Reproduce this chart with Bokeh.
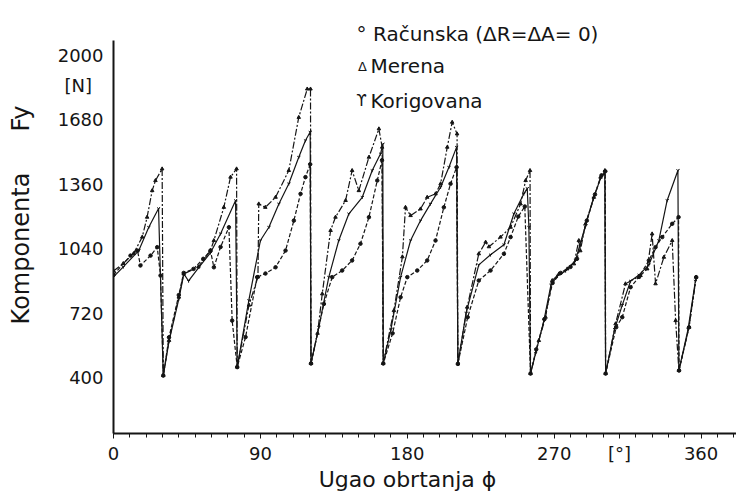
from bokeh.plotting import figure
from bokeh.models import Range1d, FixedTicker, Label, ColumnDataSource, LinearAxis
from bokeh.embed import file_html
from bokeh.resources import INLINE

# ---------------- data ----------------
# Racunska (dR = dA = 0)
racunska_phi = [0, 10.4, 14.7, 16.5, 22.7, 26.8, 28.8, 30.5,
                34, 40, 43, 49, 55, 59.4, 61.5, 65.6, 70.7, 72.7, 75.8,
                80.9, 88, 93.1, 99.3, 105.4, 110.5, 114.6, 117.6, 120.5, 121,
                128.9, 134, 140.1, 146.2, 151.3, 156.5, 161.6, 164.5, 165.3,
                171, 175.9, 180, 186.1, 192.2, 197.3, 202.4, 206.5, 210.2, 211,
                217, 223.8, 231, 239.2, 243.3, 248, 252, 255.5,
                259, 264, 269, 274, 280, 284, 290, 295, 299, 301.3, 301.5,
                308, 311.7, 316.8, 322, 328, 332.1, 336.2, 342.3, 346.2, 346.5, 352.6, 357]
racunska_f = [910, 1006, 1031, 957, 1006, 1048, 907, 410,
              600, 810, 920, 940, 990, 1031, 948, 1049, 1147, 683, 452,
              601, 899, 917, 948, 1031, 1180, 1313, 1396, 1460, 470,
              766, 899, 932, 982, 1065, 1197, 1379, 1480, 470,
              620, 799, 899, 932, 982, 1081, 1246, 1363, 1445, 468,
              700, 882, 932, 1015, 1098, 1200, 1250, 420,
              540, 690, 870, 920, 950, 990, 1180, 1310, 1405, 1425, 420,
              650, 700, 849, 900, 982, 1048, 1098, 1164, 1197, 435, 650, 899]

# Merena
merena_phi = [0, 6, 12.3, 17.6, 20.6, 23.7, 25.7, 29.8, 30.5,
              34, 40, 43, 52, 59.4, 61.5, 67.6, 71.7, 75.4, 75.8,
              83, 88.5, 89, 93, 99.3, 107.4, 113.5, 118.7, 120.7, 121,
              125, 127.9, 133, 136, 142.2, 146.2, 150.3, 156.5, 162.6, 164.6, 165.2,
              171.8, 177, 178.9, 182, 188.1, 192.2, 197.3, 200.4, 204.5, 207.5, 210.5, 211,
              216.7, 223.8, 228, 230, 237.1, 243.3, 249.4, 252.5, 255.2, 255.5,
              260.6, 264.7, 268.8, 272.9, 278, 282.1, 285.1, 286, 289.2, 294.3, 298.4, 301.1, 301.5,
              307.6, 313.7, 322.9, 327, 330, 332.1, 337.2, 342.3, 344.4, 346.4, 352.6, 357]
merena_f = [930, 967, 1016, 1098, 1197, 1329, 1379, 1437, 410,
            584, 800, 915, 950, 1031, 1081, 1246, 1396, 1437, 452,
            760, 900, 1263, 1246, 1296, 1429, 1693, 1834, 1834, 470,
            620, 816, 1131, 1197, 1280, 1429, 1329, 1495, 1636, 1545, 470,
            733, 1000, 1246, 1205, 1238, 1296, 1313, 1363, 1545, 1669, 1611, 468,
            750, 1015, 1073, 1050, 1098, 1147, 1263, 1379, 1429, 420,
            584, 700, 882, 915, 940, 965, 1081, 1030, 1164, 1296, 1396, 1429, 420,
            667, 866, 907, 940, 1114, 866, 998, 1081, 683, 435, 650, 899]

# Korigovana
korigovana_phi = [0, 6, 15.5, 21.6, 27.6, 30.5,
                  34, 40, 43.1, 46, 52.3, 59.4, 65.6, 74.8, 75.8,
                  82.9, 90, 95.2, 101.3, 107.4, 113.5, 117.6, 120.5, 121,
                  125.8, 131.9, 138, 144.2, 152.4, 158.5, 163.6, 165, 165.3,
                  170, 175.9, 182, 188.1, 194.2, 200.4, 205.5, 210.2, 211,
                  216, 223.8, 231, 239.2, 245.3, 251.4, 253.5, 254.5, 255.5,
                  258.6, 263.7, 268, 272, 277, 283, 289, 294, 298.4, 301, 301.5,
                  307, 311.7, 316.8, 322, 328, 334.1, 339.2, 345.8, 346.4, 352, 356.5]
korigovana_f = [900, 950, 1031, 1147, 1240, 410,
                580, 790, 915, 880, 948, 1020, 1115, 1280, 452,
                783, 1081, 1147, 1263, 1363, 1495, 1578, 1620, 470,
                650, 899, 1081, 1214, 1296, 1429, 1512, 1560, 470,
                640, 899, 1081, 1180, 1263, 1346, 1445, 1545, 468,
                720, 960, 1010, 1060, 1214, 1313, 1340, 1147, 420,
                520, 683, 860, 905, 930, 982, 1150, 1290, 1390, 1420, 420,
                640, 760, 880, 910, 960, 1081, 1280, 1429, 435, 640, 880]

x_ticks = [0, 90, 180, 270, 360]
x_unit_tick = 310            # where "[°]" sits among the x labels
y_ticks = [400, 720, 1040, 1360, 1680, 2000]
y_unit_tick = 1850           # where "[N]" sits among the y labels

# ---------------- layout ----------------
W, H = 736, 497
LEFT, TOP, BOTTOM = 113, 40, 64
X0, X1 = 0, 381.7
Y0, Y1 = 122, 2075
FONT = "DejaVu Sans"
INK = "#151515"

p = figure(width=W, height=H, output_backend="svg", toolbar_location=None,
           x_range=Range1d(X0, X1), y_range=Range1d(Y0, Y1),
           min_border_left=LEFT, min_border_right=0,
           min_border_top=TOP, min_border_bottom=BOTTOM)
p.outline_line_color = None
p.xgrid.visible = False
p.ygrid.visible = False
p.background_fill_color = "white"
p.border_fill_color = "white"

fw = W - LEFT
fh = H - TOP - BOTTOM


def dx(px):
    return X0 + (px - LEFT) * (X1 - X0) / fw


def dy(py):
    return Y0 + (TOP + fh - py) * (Y1 - Y0) / fh


def bare(axis):
    axis.axis_line_color = None
    axis.major_tick_line_color = None
    axis.minor_tick_line_color = None
    axis.major_tick_out = 0
    axis.major_tick_in = 0
    axis.minor_tick_out = 0
    axis.minor_tick_in = 0
    axis.major_label_text_font = FONT
    axis.major_label_text_color = INK


# x axis
minors = [t for t in range(0, 381, 10) if t != x_unit_tick]
p.xaxis.ticker = FixedTicker(ticks=x_ticks + [x_unit_tick], minor_ticks=minors)
p.xaxis.major_label_overrides = {x_unit_tick: "[°]"}
p.xaxis.axis_line_width = 2
p.xaxis.axis_line_color = INK
p.xaxis.major_tick_out = 5
p.xaxis.major_tick_in = 0
p.xaxis.minor_tick_out = 4
p.xaxis.minor_tick_in = 0
p.xaxis.major_tick_line_color = INK
p.xaxis.minor_tick_line_color = INK
p.xaxis.major_label_text_font = FONT
p.xaxis.major_label_text_font_size = "18px"
p.xaxis.major_label_text_color = INK
p.xaxis.major_label_standoff = 4

# x title as a second, bare axis row below
xt = dx(407)
xtitle = LinearAxis(ticker=FixedTicker(ticks=[xt], minor_ticks=[]))
bare(xtitle)
xtitle.major_label_overrides = {xt: "Ugao obrtanja ϕ"}
xtitle.major_label_text_font_size = "22px"
xtitle.major_label_standoff = 0
p.add_layout(xtitle, "below")

# y axis
p.yaxis.ticker = FixedTicker(ticks=y_ticks + [y_unit_tick], minor_ticks=[])
p.yaxis.major_label_overrides = {y_unit_tick: "[N]\u00a0\u00a0"}
p.yaxis.axis_line_width = 2
p.yaxis.axis_line_color = INK
p.yaxis.major_tick_out = 0
p.yaxis.major_tick_in = 0
p.yaxis.major_label_text_font = FONT
p.yaxis.major_label_text_font_size = "18px"
p.yaxis.major_label_text_color = INK
p.yaxis.major_label_standoff = 10

# outer left row: "Komponenta" and "Fy", rotated
yk, yf = dy(248), dy(118)
ytitle = LinearAxis(ticker=FixedTicker(ticks=[yk, yf], minor_ticks=[]))
bare(ytitle)
ytitle.major_label_overrides = {yk: "Komponenta", yf: "Fy"}
ytitle.major_label_orientation = "vertical"
ytitle.major_label_text_font_size = "24px"
ytitle.major_label_standoff = 20
p.add_layout(ytitle, "left")

# legend, first row above the frame
lx = dx(477)
leg = LinearAxis(ticker=FixedTicker(ticks=[lx], minor_ticks=[]))
bare(leg)
leg.major_label_overrides = {lx: "° Računska (ΔR=ΔA= 0)"}
leg.major_label_text_font_size = "20px"
leg.major_label_standoff = -5
p.add_layout(leg, "above")

# series
series = [
    ("Računska", racunska_phi, racunska_f, "4 2", "circle"),
    ("Merena", merena_phi, merena_f, "7 2 2 2", "triangle"),
    ("Korigovana", korigovana_phi, korigovana_f, "solid", "y"),
]
for name, ph, ff, dash, marker in series:
    assert len(ph) == len(ff), name
    src = ColumnDataSource(dict(phi=ph, f=ff))
    p.line("phi", "f", source=src, line_color=INK, line_width=1.2, line_dash=dash)
    p.scatter("phi", "f", source=src, marker=marker, size=3.5,
              line_color=INK, fill_color=INK, line_width=1)


def lab(px, py, text, size="20px", align="center"):
    p.add_layout(Label(x=dx(px), y=dy(py), text=text,
                       text_font=FONT, text_font_size=size, text_color=INK,
                       text_align=align, text_baseline="middle"))


# legend rows inside the frame
lab(362, 66, "Δ", size="13px")
lab(370, 65, "Merena", align="left")
lab(361, 100, "ϒ", size="15px")
lab(370, 100, "Korigovana", align="left")

open("out.html", "w").write(file_html(p, INLINE))
